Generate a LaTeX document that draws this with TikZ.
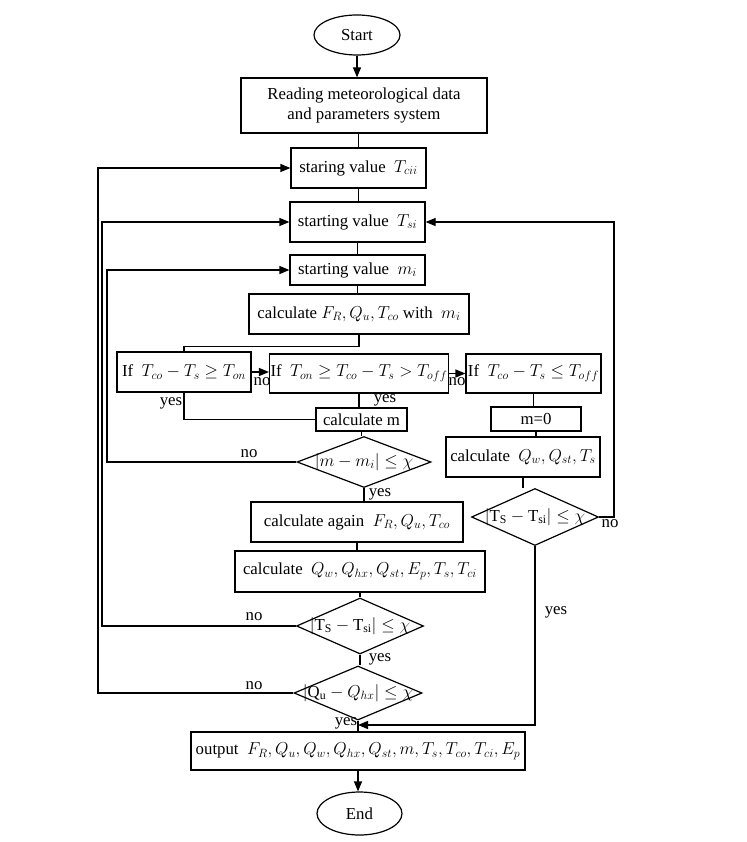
\documentclass[tikz,border=0pt]{standalone}
\usepackage{fontspec}
\setmainfont{Liberation Serif}
\usetikzlibrary{shapes.geometric,arrows.meta,calc}
\begin{document}
\begin{tikzpicture}[x=1pt,y=-1pt, line width=1.2pt,
  every node/.style={font=\fontsize{16.8}{20}\selectfont},
  box/.style={draw, rectangle, inner sep=1pt, align=center},
  oval/.style={draw, ellipse, inner sep=0pt},
  dia/.style={draw, diamond, inner sep=0pt},
  dtext/.style={inner sep=0pt},
  lbl/.style={inner sep=0pt},
  arr/.style={-{Triangle[length=10pt,width=8pt]}}]
\useasboundingbox (0,0) rectangle (746,842);
% nodes
\node[oval, minimum width=86pt, minimum height=40pt] (start) at (357,35) {Start};
\node[box, minimum width=246pt, minimum height=55pt] (read) at (364,105.5) {Reading meteorological data\\ and parameters system};
\node[box, minimum width=135pt, minimum height=40pt] (tcii) at (358.5,168) {staring value\ \ $T_{cii}$};
\node[box, minimum width=135pt, minimum height=40pt] (tsi) at (357.5,222) {starting value\ \ $T_{si}$};
\node[box, minimum width=135pt, minimum height=30pt] (mi) at (357.5,270) {starting value\ \ $m_i$};
\node[box, minimum width=220pt, minimum height=40pt] (calc1) at (359,314) {calculate $F_R,Q_u,T_{co}$ with\ \ $m_i$};
\node[box, minimum width=134pt, minimum height=40pt] (if1) at (184,372) {If\ \ $T_{co}-T_s\ge T_{on}$};
\node[box, minimum width=174pt, minimum height=39pt] (if2) at (359,373.5) {If\ \ $T_{on}\ge T_{co}-T_s>T_{off}$};
\node[box, minimum width=135pt, minimum height=39pt] (if3) at (533.5,373.5) {If\ \ $T_{co}-T_s\le T_{off}$};
\node[box, minimum width=91pt, minimum height=23pt] (calcm) at (361.5,419.5) {calculate m};
\node[box, minimum width=90pt, minimum height=24pt] (m0) at (536,419) {m=0};
\node[dia, minimum width=134pt, minimum height=51pt] (d1) at (364,462) {};
\node[dtext] (d1t) at (d1) {$|m-m_i|\le\chi$};
\node[box, minimum width=154pt, minimum height=40pt] (calc3) at (523,457) {calculate\ \ $Q_w,Q_{st},T_s$};
\node[dia, minimum width=127pt, minimum height=57pt] (d3) at (535,517) {};
\node[dtext] (d3t) at (d3) {$|\mathrm{T_S}-\mathrm{T_{si}}|\le\chi$};
\node[box, minimum width=212pt, minimum height=40pt] (calc2) at (357,522) {calculate again\ \ $F_R,Q_u,T_{co}$};
\node[box, minimum width=250pt, minimum height=41pt] (calc4) at (360,571.5) {calculate\ \ $Q_w,Q_{hx},Q_{st},E_p,T_s,T_{ci}$};
\node[dia, minimum width=127pt, minimum height=56pt] (d2) at (360,626) {};
\node[dtext] (d2t) at (d2) {$|\mathrm{T_S}-\mathrm{T_{si}}|\le\chi$};
\node[dia, minimum width=128pt, minimum height=54pt] (d4) at (358,693) {};
\node[dtext] (d4t) at (d4) {$|\mathrm{Q_u}-Q_{hx}|\le\chi$};
\node[box, minimum width=334pt, minimum height=38pt] (out) at (358,751) {output\ \ $F_R,Q_u,Q_w,Q_{hx},Q_{st},m,T_s,T_{co},T_{ci},E_p$};
\node[oval, minimum width=85pt, minimum height=43pt] (end) at (359.5,813.5) {End};
% loop coordinates
\coordinate (L1) at (98,0);
\coordinate (L2) at (102,0);
\coordinate (L3) at (107,0);
\coordinate (R) at (614,0);
\coordinate (J) at (358,725);
% connectors
\draw[arr] (start.south) -- (start.south |- read.north);
\draw (tcii.north) -- (tcii.north |- read.south);
\draw (tcii.south) -- (tcii.south |- tsi.north);
\draw (tsi.south) -- (tsi.south |- mi.north);
\draw (mi.south) -- (mi.south |- calc1.north);
\draw (calc1.south) -- ++(0,12) -| (if1.north);
\draw[arr] (if1.east) -- (if2.west |- if1.east);
\draw[arr] (if2.east) -- (if3.west);
\draw (if2.south) -- (if2.south |- calcm.north);
\draw (if1.south) |- (calcm.west);
\draw (if3.south) -- (if3.south |- m0.north);
\draw (calcm.south) -- (calcm.south |- d1.north);
\draw[arr] (d1.west) -- (d1.west -| L3) |- (mi.west);
\draw (m0.south) -- (m0.south |- calc3.north);
\draw (calc3.south) -- (calc3.south |- d3.north);
\draw[arr] (d3.east) -- (d3.east -| R) |- (tsi.east);
\draw (d1.south) -- (d1.south |- calc2.north);
\draw (calc2.south) -- (calc2.south |- calc4.north);
\draw (calc4.south) -- (calc4.south |- d2.north);
\draw[arr] (d2.west) -- (d2.west -| L2) |- (tsi.west);
\draw (d2.south) -- (d2.south |- d4.north);
\draw[arr] (d4.west) -- (d4.west -| L1) |- (tcii.west);
\draw (d4.south) -- (d4.south |- out.north);
\draw[arr] (d3.south) |- (J);
\draw[arr] (out.south) -- (out.south |- end.north);
% labels
\node[lbl] (n1) at (262,382) {no};
\node[lbl] (n2) at (457,382) {no};
\node[lbl] (y1) at (385,400) {yes};
\node[lbl] (y2) at (171,403) {yes};
\node[lbl] (n3) at (249,454) {no};
\node[lbl] (y3) at (380,494) {yes};
\node[lbl] (n4) at (610,524) {no};
\node[lbl] (n5) at (254,617) {no};
\node[lbl] (y4) at (380,659) {yes};
\node[lbl] (n6) at (254,686) {no};
\node[lbl] (y5) at (556,612) {yes};
\node[lbl] (y6) at (346,723) {yes};
\end{tikzpicture}
\end{document}
